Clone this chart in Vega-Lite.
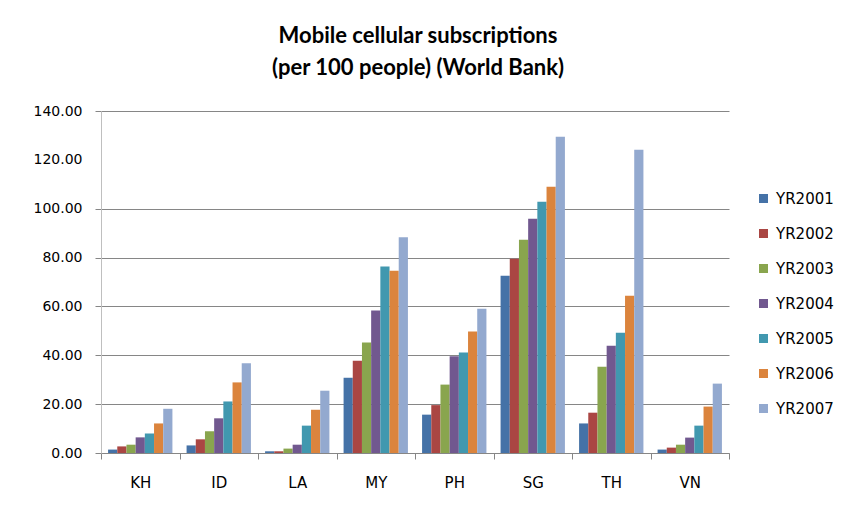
{
  "$schema": "https://vega.github.io/schema/vega-lite/v6.json",
  "autosize": "none",
  "width": 628,
  "height": 342,
  "padding": {"left": 101, "top": 111, "right": 113, "bottom": 60},
  "background": "white",
  "title": {
    "text": ["Mobile cellular subscriptions", "(per 100 people) (World Bank)"],
    "font": "Lato",
    "fontSize": 22,
    "fontWeight": "bold",
    "color": "#000000",
    "lineHeight": 32,
    "offset": 24,
    "anchor": "middle",
    "dx": 3
  },
  "data": {
    "values": [
      {"country": "KH", "year": "YR2001", "value": 1.4},
      {"country": "KH", "year": "YR2002", "value": 2.7},
      {"country": "KH", "year": "YR2003", "value": 3.4},
      {"country": "KH", "year": "YR2004", "value": 6.4},
      {"country": "KH", "year": "YR2005", "value": 8.0},
      {"country": "KH", "year": "YR2006", "value": 12.1},
      {"country": "KH", "year": "YR2007", "value": 18.1},
      {"country": "ID", "year": "YR2001", "value": 3.1},
      {"country": "ID", "year": "YR2002", "value": 5.6},
      {"country": "ID", "year": "YR2003", "value": 8.9},
      {"country": "ID", "year": "YR2004", "value": 14.2},
      {"country": "ID", "year": "YR2005", "value": 21.1},
      {"country": "ID", "year": "YR2006", "value": 28.9},
      {"country": "ID", "year": "YR2007", "value": 36.7},
      {"country": "LA", "year": "YR2001", "value": 0.7},
      {"country": "LA", "year": "YR2002", "value": 0.7},
      {"country": "LA", "year": "YR2003", "value": 1.8},
      {"country": "LA", "year": "YR2004", "value": 3.4},
      {"country": "LA", "year": "YR2005", "value": 11.2},
      {"country": "LA", "year": "YR2006", "value": 17.7},
      {"country": "LA", "year": "YR2007", "value": 25.5},
      {"country": "MY", "year": "YR2001", "value": 30.8},
      {"country": "MY", "year": "YR2002", "value": 37.8},
      {"country": "MY", "year": "YR2003", "value": 45.2},
      {"country": "MY", "year": "YR2004", "value": 58.3},
      {"country": "MY", "year": "YR2005", "value": 76.3},
      {"country": "MY", "year": "YR2006", "value": 74.6},
      {"country": "MY", "year": "YR2007", "value": 88.3},
      {"country": "PH", "year": "YR2001", "value": 15.7},
      {"country": "PH", "year": "YR2002", "value": 19.6},
      {"country": "PH", "year": "YR2003", "value": 28.0},
      {"country": "PH", "year": "YR2004", "value": 39.6},
      {"country": "PH", "year": "YR2005", "value": 41.1},
      {"country": "PH", "year": "YR2006", "value": 49.7},
      {"country": "PH", "year": "YR2007", "value": 59.1},
      {"country": "SG", "year": "YR2001", "value": 72.6},
      {"country": "SG", "year": "YR2002", "value": 79.5},
      {"country": "SG", "year": "YR2003", "value": 87.3},
      {"country": "SG", "year": "YR2004", "value": 95.9},
      {"country": "SG", "year": "YR2005", "value": 102.9},
      {"country": "SG", "year": "YR2006", "value": 109.0},
      {"country": "SG", "year": "YR2007", "value": 129.5},
      {"country": "TH", "year": "YR2001", "value": 12.1},
      {"country": "TH", "year": "YR2002", "value": 16.5},
      {"country": "TH", "year": "YR2003", "value": 35.3},
      {"country": "TH", "year": "YR2004", "value": 43.9},
      {"country": "TH", "year": "YR2005", "value": 49.2},
      {"country": "TH", "year": "YR2006", "value": 64.4},
      {"country": "TH", "year": "YR2007", "value": 124.1},
      {"country": "VN", "year": "YR2001", "value": 1.4},
      {"country": "VN", "year": "YR2002", "value": 2.2},
      {"country": "VN", "year": "YR2003", "value": 3.4},
      {"country": "VN", "year": "YR2004", "value": 6.3},
      {"country": "VN", "year": "YR2005", "value": 11.2},
      {"country": "VN", "year": "YR2006", "value": 19.0},
      {"country": "VN", "year": "YR2007", "value": 28.4}
    ]
  },
  "mark": {"type": "bar"},
  "encoding": {
    "x": {
      "field": "country",
      "type": "nominal",
      "sort": ["KH", "ID", "LA", "MY", "PH", "SG", "TH", "VN"],
      "scale": {"paddingInner": 0, "paddingOuter": 0},
      "axis": {
        "title": null,
        "labelAngle": 0,
        "tickBand": "extent",
        "tickSize": 6,
        "tickColor": "#868686",
        "domainColor": "#868686",
        "labelPadding": 16,
        "labelFont": "DejaVu Sans",
        "labelFontSize": 15,
        "labelColor": "#000000"
      }
    },
    "xOffset": {
      "field": "year",
      "type": "nominal",
      "scale": {"paddingInner": 0, "paddingOuter": 0.77}
    },
    "y": {
      "field": "value",
      "type": "quantitative",
      "scale": {"domain": [0, 140], "nice": false},
      "axis": {
        "title": null,
        "values": [0, 20, 40, 60, 80, 100, 120, 140],
        "format": ".2f",
        "tickSize": 6,
        "tickColor": "#868686",
        "tickOpacity": {"condition": {"test": "datum.value == 120", "value": 0}, "value": 1},
        "grid": true,
        "gridColor": "#868686",
        "gridOpacity": {"condition": {"test": "datum.value == 120", "value": 0}, "value": 1},
        "domainColor": "#bfbfbf",
        "labelPadding": 13,
        "labelFont": "DejaVu Sans",
        "labelFontSize": 14,
        "labelColor": "#000000"
      }
    },
    "color": {
      "field": "year",
      "type": "nominal",
      "scale": {"range": ["#4572A7", "#AA4643", "#89A54E", "#71588F", "#4198AF", "#DB843D", "#93A9CF"]},
      "legend": {
        "title": null,
        "orient": "none",
        "legendX": 655,
        "legendY": 80,
        "symbolType": "square",
        "symbolSize": 81,
        "symbolStrokeWidth": 0,
        "symbolOpacity": 1,
        "labelFont": "DejaVu Sans",
        "labelFontSize": 15,
        "labelColor": "#000000",
        "labelOffset": 5,
        "rowPadding": 19
      }
    }
  },
  "config": {
    "view": {"stroke": null},
    "axis": {"gridWidth": 1, "tickWidth": 1, "domainWidth": 1}
  }
}
